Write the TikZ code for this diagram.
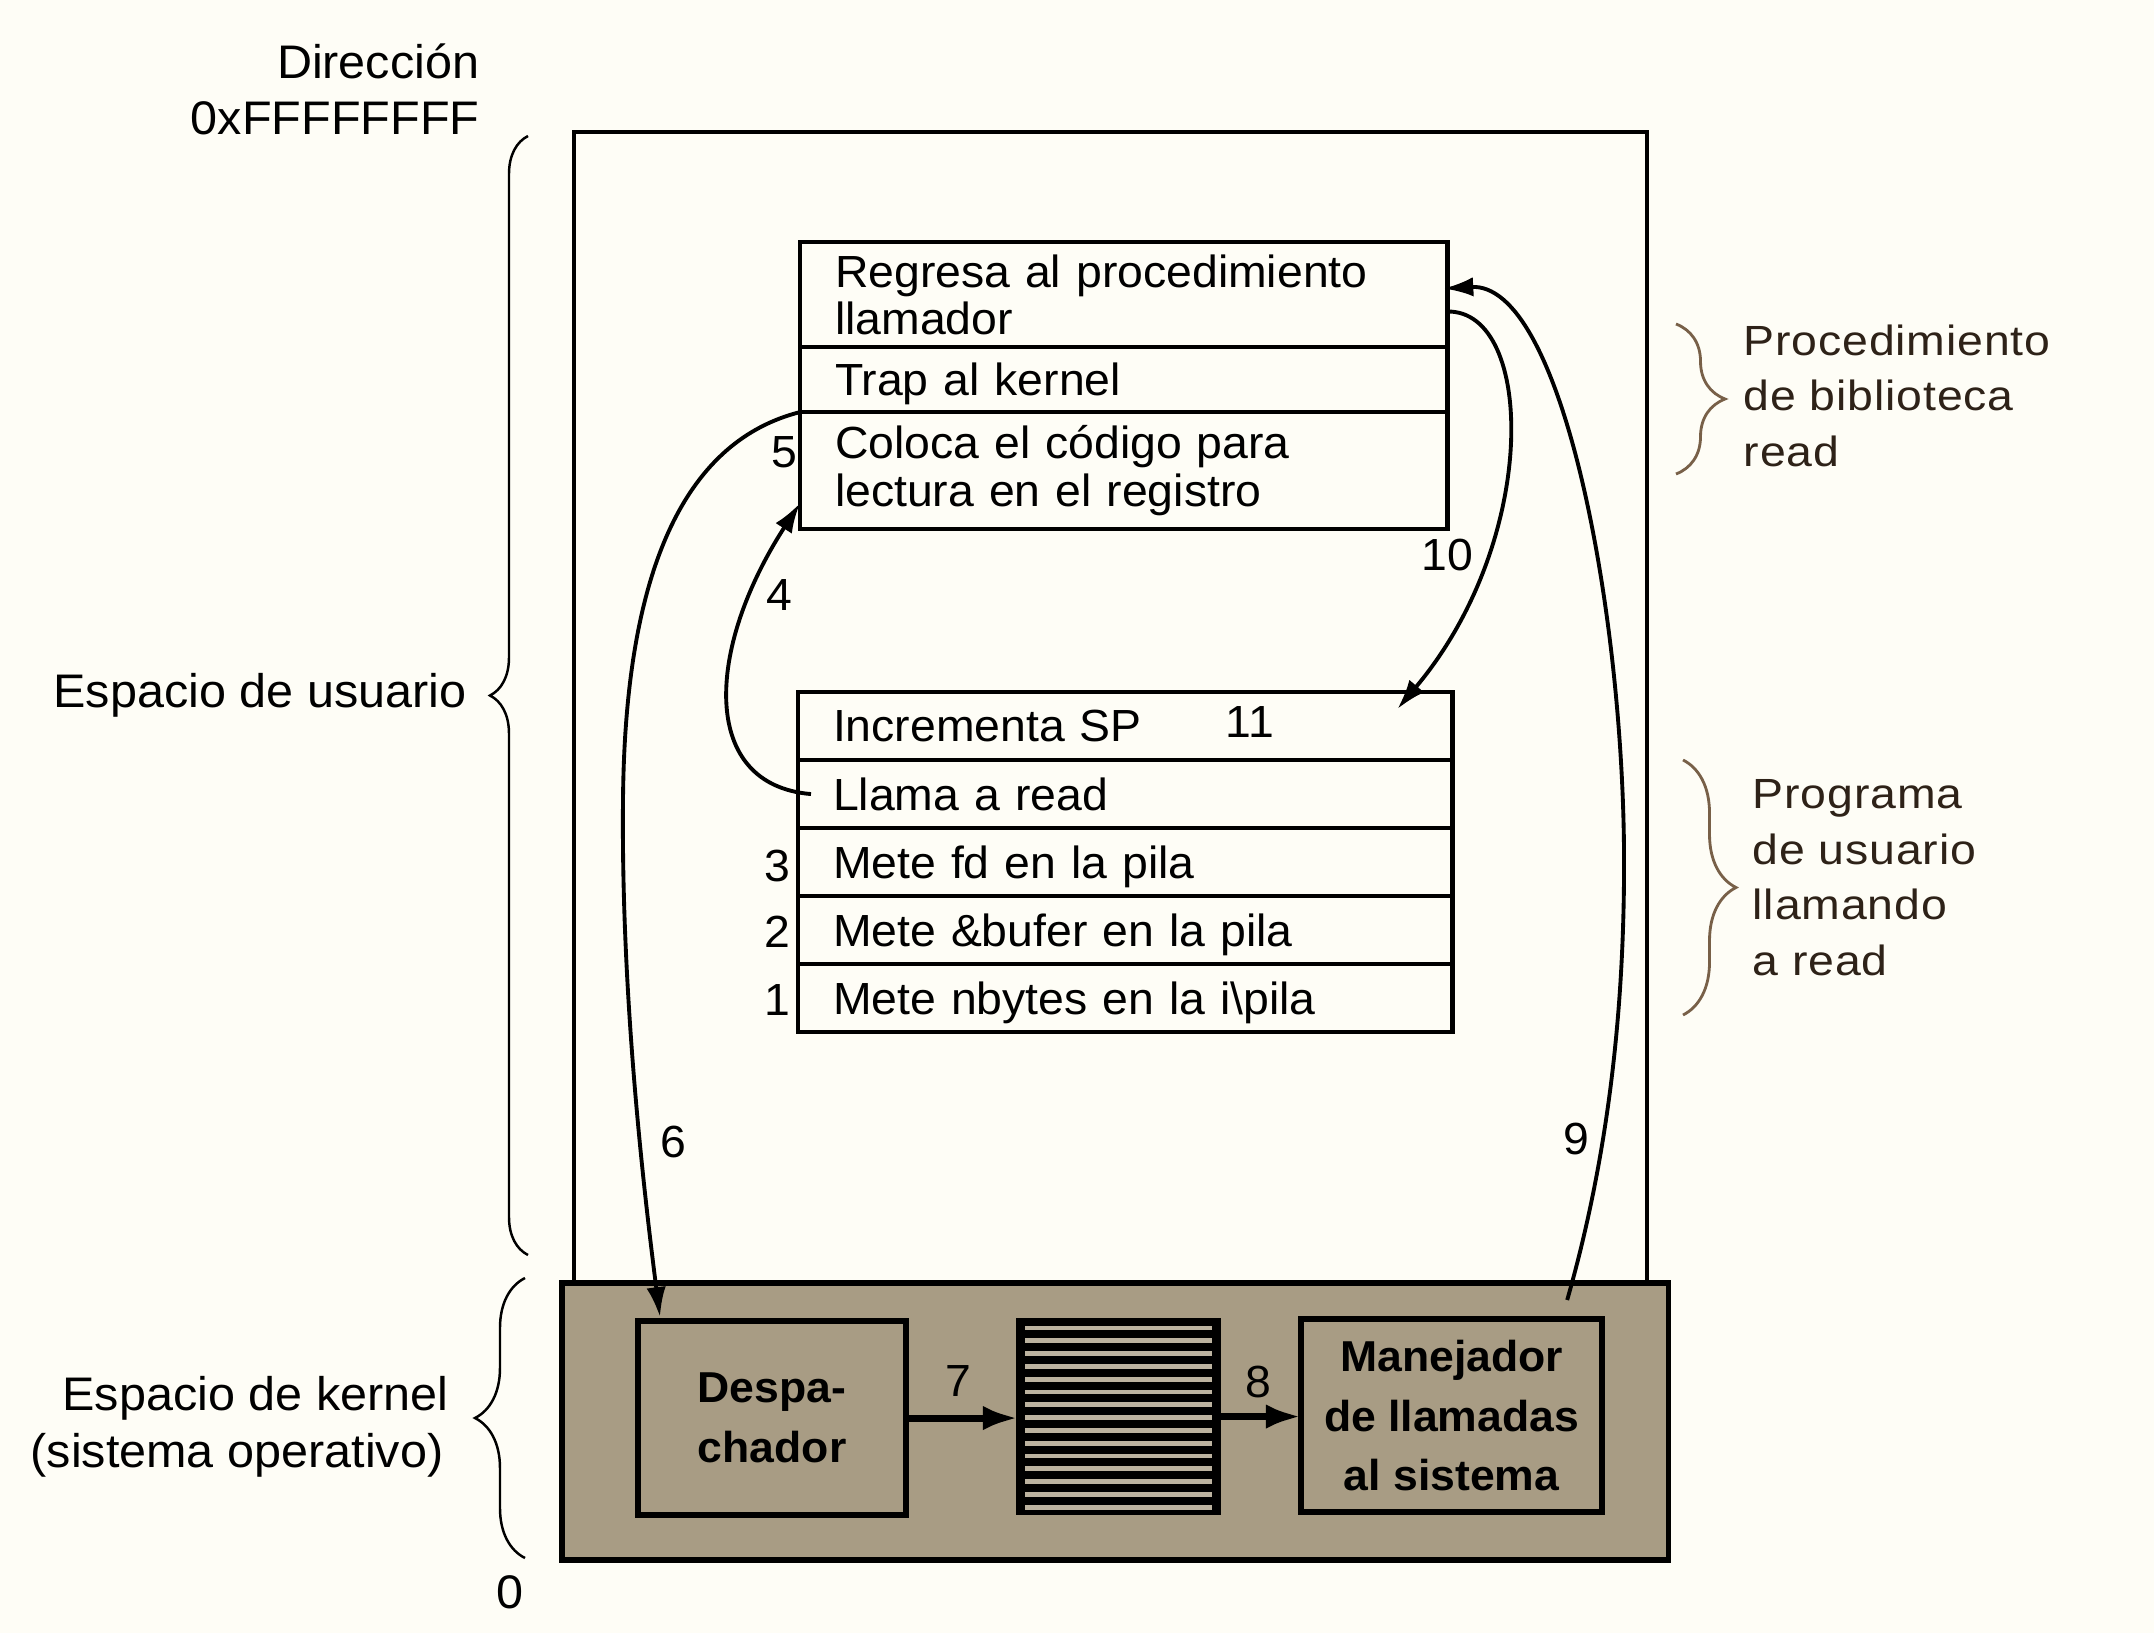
\documentclass[tikz,border=0pt]{standalone}
\usepackage{fontspec}
\setmainfont{Liberation Sans}[FakeStretch=1.03]
\newfontfamily\rfont{Liberation Sans}[FakeStretch=1.1,LetterSpace=2]
\usetikzlibrary{arrows.meta,positioning,calc,decorations.pathreplacing}
\definecolor{bgc}{RGB}{254,253,246}
\definecolor{kern}{RGB}{168,156,132}
\definecolor{stripec}{RGB}{188,179,160}
\definecolor{lblc}{RGB}{46,34,24}
\definecolor{bracec}{RGB}{120,96,72}
\begin{document}
\begin{tikzpicture}[x=0.01cm,y=-0.01cm,
  row/.style={draw,line width=1.2pt,outer sep=0pt,font=\fontsize{12.8pt}{13.4pt}\selectfont,align=left,inner xsep=0.35cm,inner ysep=0pt,anchor=north west},
  oneline/.style={text depth=0pt},
  num/.style={font=\fontsize{12.8pt}{14pt}\selectfont,inner sep=0pt},
  lab/.style={font=\fontsize{13.4pt}{15.9pt}\selectfont,inner sep=0pt},
  rlab/.style={font=\rfont\fontsize{12pt}{15.8pt}\selectfont,text=lblc,inner sep=0pt,align=left,anchor=north west},
  kbox/.style={draw,line width=1.6pt,outer sep=0pt,anchor=north west,inner sep=0pt,align=center,font=\bfseries\fontsize{12.3pt}{17pt}\selectfont},
  curve/.style={line width=1.1pt,-{Latex[length=8.5pt,width=5.5pt]}},
  karrow/.style={line width=2pt,-{Latex[length=10pt,width=7pt]}},
  lbrace/.style={decorate,line width=0.7pt},
  rbrace/.style={decorate,line width=0.8pt,draw=bracec}
]
\fill[bgc] (0,0) rectangle (2154,1633);
\useasboundingbox (0,0) rectangle (2154,1633);

% user space and kernel space
\node[draw,line width=1.2pt,outer sep=0pt,anchor=north west,minimum width=10.72cm,minimum height=11.51cm,inner sep=0pt] (user) at (574,132) {};
\node[draw,fill=kern,line width=1.6pt,outer sep=0pt,anchor=north west,minimum width=11.06cm,minimum height=2.77cm,inner sep=0pt] (kernel) at (562,1283) {};

% library procedure
\node[row,text width=5.77cm,minimum height=1.05cm] (r1) at (800,242) {Regresa al procedimiento\\llamador};
\node[row,oneline,text width=5.77cm,minimum height=0.65cm,below=0pt of r1] (r2) {Trap al kernel};
\node[row,text width=5.77cm,minimum height=1.17cm,below=0pt of r2] (r3) {Coloca el código para\\lectura en el registro};

% user program
\node[row,oneline,text width=5.84cm,minimum height=0.68cm] (inc) at (798,692) {Incrementa SP};
\node[row,oneline,text width=5.84cm,minimum height=0.68cm,below=0pt of inc] (llama) {Llama a read};
\node[row,oneline,text width=5.84cm,minimum height=0.68cm,below=0pt of llama] (fd) {Mete fd en la pila};
\node[row,oneline,text width=5.84cm,minimum height=0.68cm,below=0pt of fd] (buf) {Mete \&bufer en la pila};
\node[row,oneline,text width=5.84cm,minimum height=0.68cm,below=0pt of buf] (nby) {Mete nbytes en la i\textbackslash pila};

% kernel boxes
\node[kbox,minimum width=2.68cm,minimum height=1.94cm] (desp) at (638,1321) {Despa-\\chador};
\node[draw,fill=black,line width=1pt,outer sep=0pt,anchor=north west,minimum width=2.01cm,minimum height=1.93cm,inner sep=0pt] (stripes) at (1018,1320) {};
\foreach \i in {0,...,14}
  \draw[stripec,line width=1.4pt] ($(stripes.north west)+(7,{8+12.8*\i})$) -- ($(stripes.north east)+(-7,{8+12.8*\i})$);
\node[kbox,minimum width=3.01cm,minimum height=1.93cm] (man) at (1301,1319) {Manejador\\de llamadas\\al sistema};

\draw[karrow] (desp.east) -- (desp.east -| stripes.west);
\draw[karrow] (stripes.east) -- (stripes.east -| man.west);

% curved connectors
\coordinate (a4s) at ($(llama.west)+(13,0)$);
\coordinate (a4e) at ($(r3.south west)+(0,-26)$);
\draw[curve] (a4s) .. controls (700,785) and (705,650) .. (a4e);

\coordinate (a6e) at ($(desp.north west)+(22,-4)$);
\draw[curve] (r2.south west) .. controls (690,440) and (625,560) .. (623,800) .. controls (621,1000) and (645,1200) .. (a6e);

\coordinate (a9s) at ($(man.north east)+(-35,-19)$);
\coordinate (a9e) at ($(r1.east)+(-4,-6)$);
\draw[curve] (a9s) .. controls (1610,1150) and (1625,1000) .. (1624,850) .. controls (1622,600) and (1560,282) .. (a9e);

\coordinate (a10s) at ($(r1.east)+(0,17)$);
\coordinate (a10e) at ($(inc.north east)+(-55,17)$);
\draw[curve] (a10s) .. controls (1535,310) and (1540,540) .. (a10e);

% step numbers
\node[num] (n1) at (777,1000) {1};
\node[num] (n2) at (777,932) {2};
\node[num] (n3) at (777,866) {3};
\node[num] (n4) at (779,595) {4};
\node[num] (n5) at (784,452) {5};
\node[num] (n6) at (673,1142) {6};
\node[num] (n7) at (958,1381) {7};
\node[num] (n8) at (1258,1382) {8};
\node[num] (n9) at (1576,1139) {9};
\node[num] (n10) at (1447,555) {10};
\node[num] (n11) at (1250,722) {11};

% left labels and braces
\node[lab,anchor=base east] (dir) at (480,78) {Dirección};
\node[lab,anchor=base east] (ffff) at (480,134) {0xFFFFFFFF};
\node[lab,anchor=base east] (eu) at (467,707) {Espacio de usuario};
\node[lab,anchor=base east] (ek) at (449,1410) {Espacio de kernel};
\node[lab,anchor=base east] (so) at (444,1467) {(sistema operativo)};
\node[lab] (zero) at (510,1592) {0};
\draw[lbrace,decoration={brace,amplitude=0.38cm}] (528,1255) -- (528,136);
\draw[lbrace,decoration={brace,amplitude=0.5cm}] (525,1558) -- (525,1278);

% right labels and braces
\draw[rbrace,decoration={brace,amplitude=0.49cm}] (1676,324) -- (1676,474);
\draw[rbrace,decoration={brace,amplitude=0.53cm}] (1683,760) -- (1683,1015);
\node[rlab] (proc) at (1743,324) {Procedimiento\\de biblioteca\\read};
\node[rlab] (prog) at (1752,779) {Programa\\de usuario\\llamando\\a read};
\end{tikzpicture}
\end{document}
